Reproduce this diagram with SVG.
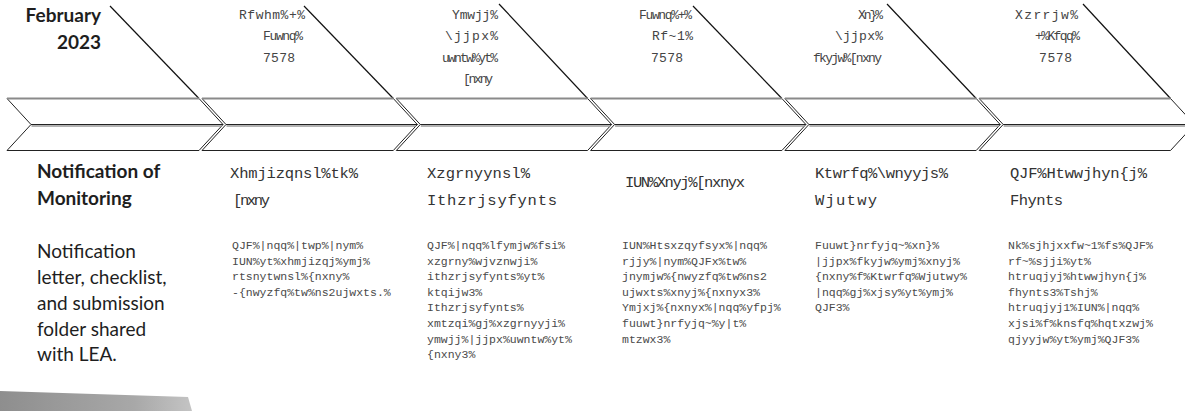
<svg xmlns="http://www.w3.org/2000/svg" width="1185" height="411" viewBox="0 0 1185 411">
<defs>
<style>
.bg{fill:#ffffff}
.chev{fill:#ffffff;stroke:#222;stroke-width:1}
.edge{stroke:#8a8a8a;stroke-width:2;fill:none}
.mid{stroke:#9a9a9a;stroke-width:1.5;fill:none}
.conn{stroke:#111;stroke-width:1.2;fill:none}
.lato{font-family:Lato,"Noto Sans","Liberation Sans",sans-serif;font-size:19px;fill:#1e1e1e}
.latob{font-family:Lato,"Noto Sans","Liberation Sans",sans-serif;font-size:19px;font-weight:bold;fill:#1e1e1e}
.top{font-family:"Liberation Mono","DejaVu Sans Mono",monospace;font-size:13px;fill:#444}
.head{font-family:"Liberation Mono","DejaVu Sans Mono",monospace;font-size:15.5px;fill:#333}
.body{font-family:"Liberation Mono","DejaVu Sans Mono",monospace;font-size:11.5px;fill:#4a4a4a}
</style>
<linearGradient id="shade" x1="0" y1="0" x2="1" y2="0">
<stop offset="0" stop-color="#8e8e8e"/>
<stop offset="0.7" stop-color="#a8a8a8"/>
<stop offset="1" stop-color="#c4c4c4"/>
</linearGradient>
</defs>
<rect class="bg" x="0" y="0" width="1185" height="411"/>

<g id="connectors">
<line class="conn" x1="110" y1="6" x2="199" y2="98.5"/>
<line class="conn" x1="304" y1="6" x2="393.3" y2="98.5"/>
<line class="conn" x1="499" y1="4" x2="587.6" y2="98.5"/>
<line class="conn" x1="693" y1="6" x2="781.9" y2="98.5"/>
<line class="conn" x1="887" y1="4" x2="976.2" y2="98.5"/>
<line class="conn" x1="1083" y1="4" x2="1170.5" y2="98.5"/>
</g>

<g id="node-1">
<polygon class="chev" points="7,98.5 199,98.5 223,124.5 31,124.5"/>
<polygon class="chev" points="31,124.5 223,124.5 199,150.5 7,150.5"/>
<line class="edge" x1="7" y1="98.5" x2="199" y2="98.5"/>
<line class="mid" x1="31.5" y1="126" x2="221.5" y2="126"/>
<text class="latob" text-anchor="end" x="101" y="22">February</text>
<text class="latob" text-anchor="end" x="101" y="49">2023</text>
<text class="latob" x="37" y="178">Notification of</text>
<text class="latob" x="37" y="205">Monitoring</text>
<text class="lato" x="37" y="258">Notification</text>
<text class="lato" x="37" y="284">letter, checklist,</text>
<text class="lato" x="37" y="310">and submission</text>
<text class="lato" x="37" y="336">folder shared</text>
<text class="lato" x="37" y="361">with LEA.</text>
</g>

<g id="node-2">
<polygon class="chev" points="202,98.5 393.3,98.5 417.3,124.5 226,124.5"/>
<polygon class="chev" points="226,124.5 417.3,124.5 393.3,150.5 202,150.5"/>
<line class="edge" x1="202" y1="98.5" x2="393.3" y2="98.5"/>
<line class="mid" x1="226.5" y1="126" x2="415.8" y2="126"/>
<text class="top" x="239" y="18.5" textLength="66" lengthAdjust="spacing">Rfwhm%+%</text>
<text class="top" x="263" y="40" textLength="40" lengthAdjust="spacing">Fuwnq%</text>
<text class="top" x="263" y="61.5" textLength="32" lengthAdjust="spacing">7578</text>
<text class="head" x="230" y="178" textLength="128" lengthAdjust="spacing">Xhmjizqnsl%tk%</text>
<text class="head" x="233" y="205" textLength="37" lengthAdjust="spacing">[nxny</text>
<text class="body" x="232" y="249">QJF%|nqq%|twp%|nym%</text>
<text class="body" x="232" y="264.6">IUN%yt%xhmjizqj%ymj%</text>
<text class="body" x="232" y="280.2">rtsnytwnsl%{nxny%</text>
<text class="body" x="232" y="295.8">-{nwyzfq%tw%ns2ujwxts.%</text>
</g>

<g id="node-3">
<polygon class="chev" points="396.3,98.5 587.6,98.5 611.6,124.5 420.3,124.5"/>
<polygon class="chev" points="420.3,124.5 611.6,124.5 587.6,150.5 396.3,150.5"/>
<line class="edge" x1="396.3" y1="98.5" x2="587.6" y2="98.5"/>
<line class="mid" x1="420.8" y1="126" x2="610.1" y2="126"/>
<text class="top" x="452" y="18.5" textLength="46" lengthAdjust="spacing">Ymwjj%</text>
<text class="top" x="445" y="40" textLength="53" lengthAdjust="spacing">\jjpx%</text>
<text class="top" x="442" y="61.5" textLength="56" lengthAdjust="spacing">uwntw%yt%</text>
<text class="top" x="463" y="83" textLength="30" lengthAdjust="spacing">[nxny</text>
<text class="head" x="427" y="178" textLength="103" lengthAdjust="spacing">Xzgrnyynsl%</text>
<text class="head" x="427" y="205" textLength="130" lengthAdjust="spacing">Ithzrjsyfynts</text>
<text class="body" x="427" y="249">QJF%|nqq%lfymjw%fsi%</text>
<text class="body" x="427" y="264.6">xzgrny%wjvznwji%</text>
<text class="body" x="427" y="280.2">ithzrjsyfynts%yt%</text>
<text class="body" x="427" y="295.8">ktqijw3%</text>
<text class="body" x="427" y="311.4">Ithzrjsyfynts%</text>
<text class="body" x="427" y="327">xmtzqi%gj%xzgrnyyji%</text>
<text class="body" x="427" y="342.6">ymwjj%|jjpx%uwntw%yt%</text>
<text class="body" x="427" y="358.2">{nxny3%</text>
</g>

<g id="node-4">
<polygon class="chev" points="590.6,98.5 781.9,98.5 805.9,124.5 614.6,124.5"/>
<polygon class="chev" points="614.6,124.5 805.9,124.5 781.9,150.5 590.6,150.5"/>
<line class="edge" x1="590.6" y1="98.5" x2="781.9" y2="98.5"/>
<line class="mid" x1="615.1" y1="126" x2="804.4" y2="126"/>
<text class="top" x="639" y="18.5" textLength="53" lengthAdjust="spacing">Fuwnq%+%</text>
<text class="top" x="652" y="40" textLength="41" lengthAdjust="spacing">Rf~1%</text>
<text class="top" x="651" y="61.5" textLength="32" lengthAdjust="spacing">7578</text>
<text class="head" x="625" y="187" textLength="120" lengthAdjust="spacing">IUN%Xnyj%[nxnyx</text>
<text class="body" x="622" y="249">IUN%Htsxzqyfsyx%|nqq%</text>
<text class="body" x="622" y="264.6">rjjy%|nym%QJFx%tw%</text>
<text class="body" x="622" y="280.2">jnymjw%{nwyzfq%tw%ns2</text>
<text class="body" x="622" y="295.8">ujwxts%xnyj%{nxnyx3%</text>
<text class="body" x="622" y="311.4">Ymjxj%{nxnyx%|nqq%yfpj%</text>
<text class="body" x="622" y="327">fuuwt}nrfyjq~%y|t%</text>
<text class="body" x="622" y="342.6">mtzwx3%</text>
</g>

<g id="node-5">
<polygon class="chev" points="784.9,98.5 976.2,98.5 1000.2,124.5 808.9,124.5"/>
<polygon class="chev" points="808.9,124.5 1000.2,124.5 976.2,150.5 784.9,150.5"/>
<line class="edge" x1="784.9" y1="98.5" x2="976.2" y2="98.5"/>
<line class="mid" x1="809.4" y1="126" x2="998.7" y2="126"/>
<text class="top" x="858" y="18.5" textLength="25" lengthAdjust="spacing">Xn}%</text>
<text class="top" x="835" y="40" textLength="48" lengthAdjust="spacing">\jjpx%</text>
<text class="top" x="813" y="61.5" textLength="69" lengthAdjust="spacing">fkyjw%[nxny</text>
<text class="head" x="815" y="178" textLength="133" lengthAdjust="spacing">Ktwrfq%\wnyyjs%</text>
<text class="head" x="815" y="205" textLength="62" lengthAdjust="spacing">Wjutwy</text>
<text class="body" x="815" y="249">Fuuwt}nrfyjq~%xn}%</text>
<text class="body" x="815" y="264.6">|jjpx%fkyjw%ymj%xnyj%</text>
<text class="body" x="815" y="280.2">{nxny%f%Ktwrfq%Wjutwy%</text>
<text class="body" x="815" y="295.8">|nqq%gj%xjsy%yt%ymj%</text>
<text class="body" x="815" y="311.4">QJF3%</text>
</g>

<g id="node-6">
<polygon class="chev" points="979.2,98.5 1170.5,98.5 1194.5,124.5 1003.2,124.5"/>
<polygon class="chev" points="1003.2,124.5 1194.5,124.5 1170.5,150.5 979.2,150.5"/>
<line class="edge" x1="979.2" y1="98.5" x2="1170.5" y2="98.5"/>
<line class="mid" x1="1003.7" y1="126" x2="1193" y2="126"/>
<text class="top" x="1015" y="18.5" textLength="63" lengthAdjust="spacing">Xzrrjw%</text>
<text class="top" x="1035" y="40" textLength="45" lengthAdjust="spacing">+%Kfqq%</text>
<text class="top" x="1039" y="61.5" textLength="33" lengthAdjust="spacing">7578</text>
<text class="head" x="1010" y="178" textLength="137" lengthAdjust="spacing">QJF%Htwwjhyn{j%</text>
<text class="head" x="1010" y="205" textLength="53" lengthAdjust="spacing">Fhynts</text>
<text class="body" x="1008" y="249">Nk%sjhjxxfw~1%fs%QJF%</text>
<text class="body" x="1008" y="264.6">rf~%sjji%yt%</text>
<text class="body" x="1008" y="280.2">htruqjyj%htwwjhyn{j%</text>
<text class="body" x="1008" y="295.8">fhynts3%Tshj%</text>
<text class="body" x="1008" y="311.4">htruqjyj1%IUN%|nqq%</text>
<text class="body" x="1008" y="327">xjsi%f%knsfq%hqtxzwj%</text>
<text class="body" x="1008" y="342.6">qjyyjw%yt%ymj%QJF3%</text>
</g>

<polygon fill="url(#shade)" points="0,391 188,397 192,411 0,411"/>
</svg>
